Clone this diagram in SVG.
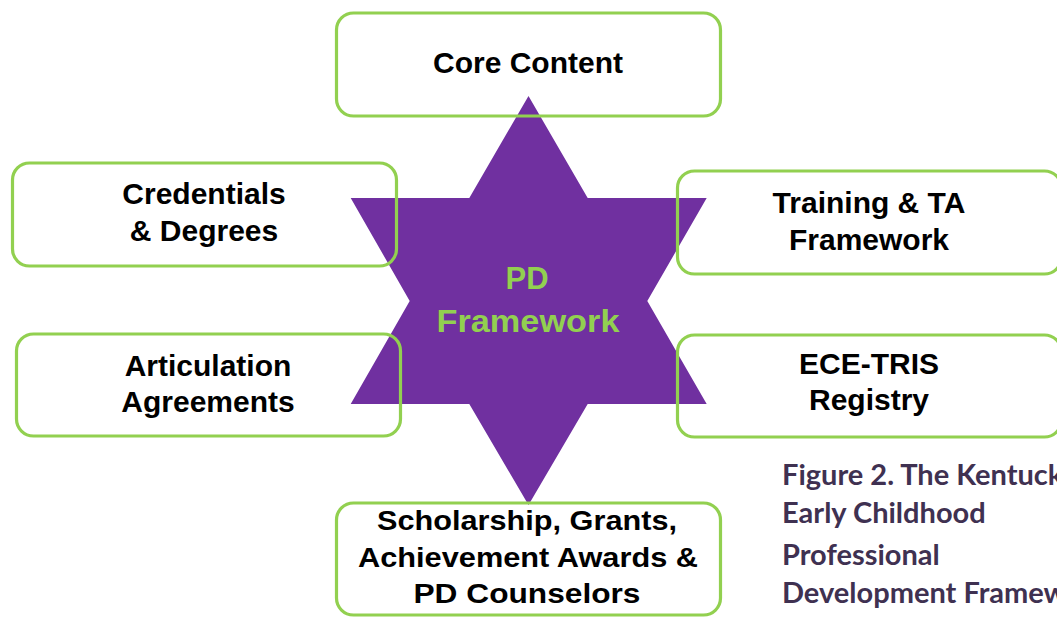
<svg xmlns="http://www.w3.org/2000/svg" width="1057" height="617" viewBox="0 0 1057 617">
<style>
.box{fill:none;stroke:#92d050;stroke-width:3.2}
.lbl{font-family:"Liberation Sans",Arial,sans-serif;font-weight:bold;font-size:30px;fill:#000;text-anchor:middle}
.sm{font-size:27px}
.center{font-family:"Liberation Sans",Arial,sans-serif;font-weight:bold;font-size:31px;fill:#92d050;text-anchor:middle}
.cap{font-family:Lato,"Open Sans",sans-serif;font-weight:bold;font-size:29px;fill:#3f3151}
</style>
<rect width="1057" height="617" fill="#ffffff"/>
<g id="pd-framework">
<polygon points="528.5,96 587.7,198 706.7,198 647.3,301 706.7,404 587.7,404 528.5,505 469.3,404 350.7,404 409.7,301 350.7,198 469.3,198" fill="#7030a0"/>
<text class="center" x="527" y="289">PD</text>
<text class="center" x="528" y="332" textLength="183" lengthAdjust="spacingAndGlyphs">Framework</text>
</g>
<g id="connectors"></g>
<g id="core-content">
<rect class="box" x="336.5" y="13" width="384" height="103" rx="17"/>
<text class="lbl" x="528" y="73">Core Content</text>
</g>
<g id="credentials">
<rect class="box" x="12.5" y="163" width="384" height="103" rx="17"/>
<text class="lbl" x="204" y="204">Credentials</text>
<text class="lbl" x="204" y="241">&amp; Degrees</text>
</g>
<g id="articulation">
<rect class="box" x="16.5" y="334" width="384" height="102" rx="17"/>
<text class="lbl" x="208" y="376">Articulation</text>
<text class="lbl" x="208" y="412">Agreements</text>
</g>
<g id="training">
<rect class="box" x="677.5" y="171" width="384" height="103" rx="17"/>
<text class="lbl" x="869" y="213">Training &amp; TA</text>
<text class="lbl" x="869" y="250">Framework</text>
</g>
<g id="ece-tris">
<rect class="box" x="677.5" y="335" width="384" height="102" rx="17"/>
<text class="lbl" x="869" y="374">ECE-TRIS</text>
<text class="lbl" x="869" y="410">Registry</text>
</g>
<g id="scholarship">
<rect class="box" x="336.5" y="503" width="384" height="112" rx="17"/>
<text class="lbl sm" x="527" y="530" textLength="300" lengthAdjust="spacingAndGlyphs">Scholarship, Grants,</text>
<text class="lbl sm" x="528" y="567" textLength="340" lengthAdjust="spacingAndGlyphs">Achievement Awards &amp;</text>
<text class="lbl sm" x="527" y="603" textLength="227" lengthAdjust="spacingAndGlyphs">PD Counselors</text>
</g>
<g id="caption">
<text class="cap" x="782" y="485">Figure 2. The Kentucky</text>
<text class="cap" x="782" y="523">Early Childhood</text>
<text class="cap" x="782" y="565">Professional</text>
<text class="cap" x="782" y="603">Development Framework</text>
</g>
</svg>
